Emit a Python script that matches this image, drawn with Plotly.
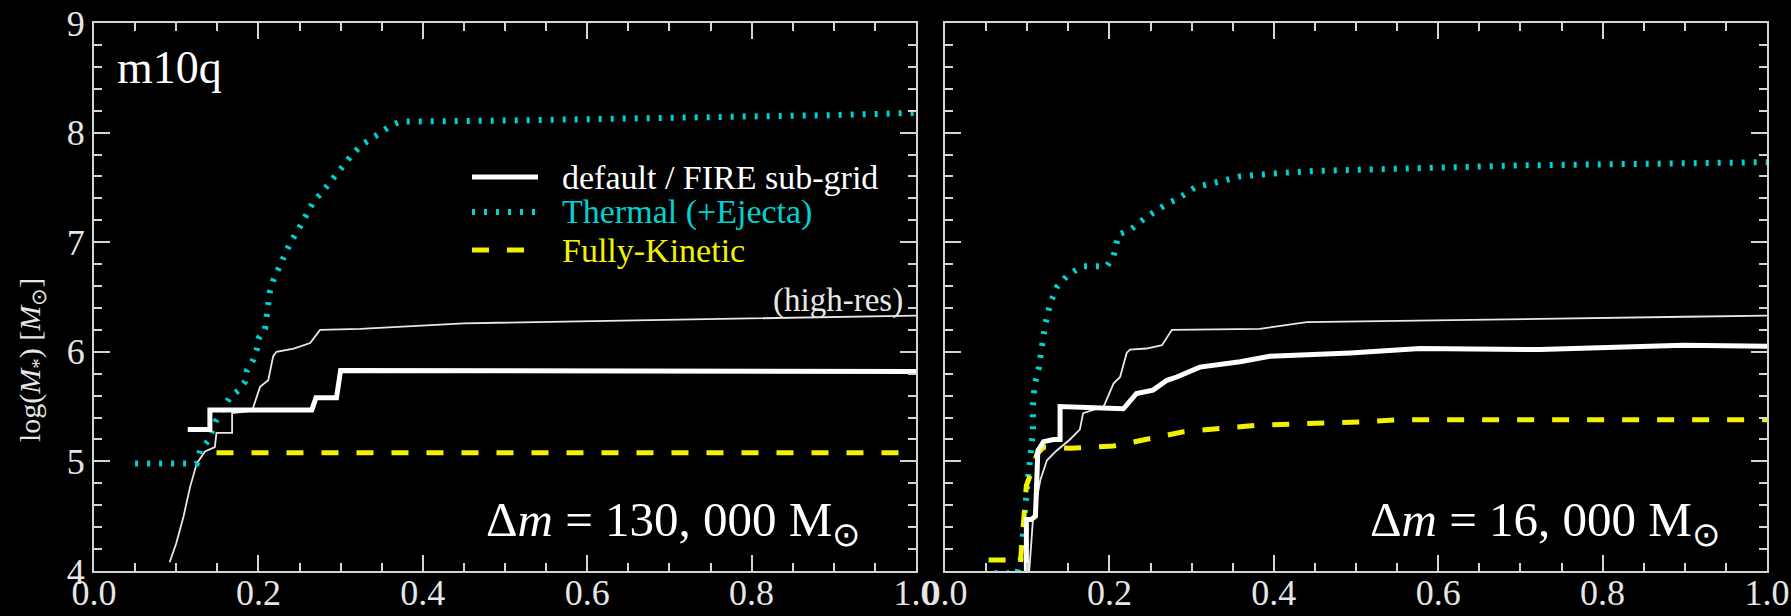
import plotly.graph_objects as go

# ---------------- data ----------------
# Left panel (Delta m = 130,000 Msun)
L_default_x = [0.114, 0.141, 0.141, 0.265, 0.270, 0.295, 0.300, 0.50, 1.0]
L_default_y = [5.29, 5.29, 5.47, 5.47, 5.58, 5.58, 5.83, 5.83, 5.82]

L_hires_x = [0.092, 0.100, 0.109, 0.117, 0.125, 0.135, 0.147, 0.149, 0.168, 0.168, 0.192, 0.194,
             0.202, 0.212, 0.218, 0.222, 0.243, 0.263, 0.275, 0.324, 0.45, 0.60, 0.80, 1.0]
L_hires_y = [4.08, 4.25, 4.50, 4.77, 4.98, 5.09, 5.13, 5.26, 5.26, 5.44, 5.46, 5.50,
             5.68, 5.74, 5.96, 6.00, 6.03, 6.08, 6.20, 6.21, 6.26, 6.28, 6.31, 6.33]

L_thermal_x = [0.050, 0.125, 0.129, 0.139, 0.149, 0.165, 0.176, 0.184, 0.186, 0.194, 0.198, 0.200,
               0.208, 0.210, 0.212, 0.214, 0.218, 0.224, 0.232, 0.239, 0.249, 0.258, 0.267, 0.279,
               0.290, 0.302, 0.314, 0.326, 0.340, 0.351, 0.360, 0.372, 0.50, 0.70, 0.90, 1.0]
L_thermal_y = [4.98, 4.98, 5.10, 5.19, 5.38, 5.58, 5.65, 5.73, 5.83, 5.93, 6.02, 6.12,
               6.21, 6.32, 6.45, 6.55, 6.65, 6.75, 6.85, 7.00, 7.12, 7.24, 7.37, 7.47,
               7.58, 7.70, 7.80, 7.89, 7.95, 8.01, 8.06, 8.10, 8.11, 8.13, 8.16, 8.18]

L_kinetic_x = [0.149, 0.50, 1.0]
L_kinetic_y = [5.08, 5.08, 5.08]

# Right panel (Delta m = 16,000 Msun)
R_default_x = [0.099, 0.099, 0.105, 0.110, 0.113, 0.120, 0.132, 0.140, 0.140, 0.217, 0.233, 0.253,
               0.270, 0.282, 0.310, 0.335, 0.359, 0.395, 0.493, 0.578, 0.724, 0.898, 1.0]
R_default_y = [3.90, 4.47, 4.47, 4.50, 5.10, 5.18, 5.20, 5.20, 5.50, 5.48, 5.62, 5.65,
               5.74, 5.77, 5.86, 5.88, 5.91, 5.96, 5.99, 6.03, 6.02, 6.06, 6.05]

R_hires_x = [0.101, 0.103, 0.107, 0.116, 0.124, 0.136, 0.152, 0.164, 0.168, 0.193, 0.205, 0.213,
             0.221, 0.225, 0.245, 0.264, 0.276, 0.383, 0.44, 0.562, 0.724, 0.90, 1.0]
R_hires_y = [3.90, 4.05, 4.47, 4.83, 5.01, 5.10, 5.20, 5.29, 5.44, 5.50, 5.71, 5.77,
             5.99, 6.02, 6.03, 6.06, 6.20, 6.21, 6.27, 6.28, 6.30, 6.32, 6.33]

R_thermal_x = [0.060, 0.088, 0.092, 0.095, 0.099, 0.101, 0.104, 0.107, 0.107, 0.109, 0.114, 0.118,
               0.122, 0.128, 0.136, 0.148, 0.166, 0.197, 0.205, 0.211, 0.225, 0.245, 0.270, 0.282,
               0.304, 0.332, 0.359, 0.404, 0.448, 0.501, 0.553, 0.696, 0.898, 1.0]
R_thermal_y = [3.98, 3.98, 4.10, 4.40, 4.65, 4.85, 5.05, 5.29, 5.50, 5.70, 5.85, 6.05,
               6.25, 6.44, 6.59, 6.69, 6.78, 6.78, 6.87, 7.07, 7.11, 7.23, 7.35, 7.39,
               7.50, 7.55, 7.60, 7.63, 7.65, 7.66, 7.67, 7.70, 7.72, 7.73]

R_kinetic_x = [0.053, 0.075, 0.078, 0.090, 0.094, 0.097, 0.099, 0.103, 0.112, 0.120, 0.152, 0.205,
               0.245, 0.290, 0.335, 0.379, 0.505, 0.550, 0.724, 1.0]
R_kinetic_y = [4.10, 4.10, 3.90, 3.90, 4.30, 4.55, 4.78, 4.86, 5.07, 5.13, 5.12, 5.14,
               5.20, 5.27, 5.30, 5.33, 5.36, 5.38, 5.38, 5.38]

series_names = ["default / FIRE sub-grid", "Thermal (+Ejecta)", "Fully-Kinetic"]
panel_labels = ["Δ<i>m</i> = 130, 000 M<sub>⊙</sub>", "Δ<i>m</i> = 16, 000 M<sub>⊙</sub>"]
x_ticks = [0.0, 0.2, 0.4, 0.6, 0.8, 1.0]
y_ticks = [4, 5, 6, 7, 8, 9]

# ---------------- style ----------------
WHITE = "#ffffff"
CYAN = "#00d2d2"
YELLOW = "#f2f200"
AXC = "#d4d4d4"
SERIF = "Liberation Serif"

line_styles = [dict(color=WHITE, width=5),
               dict(color=CYAN, width=6, dash="3px,9px"),
               dict(color=YELLOW, width=5, dash="17px,18px")]

fig = go.Figure()

def add_panel(xa, ya, dx, dy, hx, hy, tx, ty, kx, ky):
    fig.add_trace(go.Scatter(x=hx, y=hy, mode="lines", xaxis=xa, yaxis=ya, name="high-res",
                             line=dict(color="#e8e8e8", width=1.8), hoverinfo="skip"))
    fig.add_trace(go.Scatter(x=tx, y=ty, mode="lines", xaxis=xa, yaxis=ya,
                             name=series_names[1], line=line_styles[1]))
    fig.add_trace(go.Scatter(x=kx, y=ky, mode="lines", xaxis=xa, yaxis=ya,
                             name=series_names[2], line=line_styles[2]))
    fig.add_trace(go.Scatter(x=dx, y=dy, mode="lines", xaxis=xa, yaxis=ya,
                             name=series_names[0], line=line_styles[0]))

add_panel("x", "y", L_default_x, L_default_y, L_hires_x, L_hires_y,
          L_thermal_x, L_thermal_y, L_kinetic_x, L_kinetic_y)
add_panel("x2", "y2", R_default_x, R_default_y, R_hires_x, R_hires_y,
          R_thermal_x, R_thermal_y, R_kinetic_x, R_kinetic_y)

W, H = 1791, 616
yd = [(H - 571) / H, (H - 23) / H]

xcommon = dict(range=[0, 1.0], tickvals=x_ticks, ticktext=[f"{v:.1f}" for v in x_ticks],
               ticks="inside", ticklen=16, tickwidth=2, tickcolor=AXC,
               showline=True, linecolor=AXC, linewidth=2, mirror="allticks",
               showgrid=False, zeroline=False, automargin=False,
               minor=dict(dtick=0.05, tick0=0, ticks="inside", ticklen=8, tickwidth=2, tickcolor=AXC),
               tickfont=dict(family=SERIF, size=36, color="#e6e6e6"), ticklabelstandoff=-11)
ycommon = dict(range=[4, 9], tickvals=y_ticks,
               ticks="inside", ticklen=16, tickwidth=2, tickcolor=AXC,
               showline=True, linecolor=AXC, linewidth=2, mirror="allticks",
               showgrid=False, zeroline=False, automargin=False,
               minor=dict(dtick=0.2, tick0=4, ticks="inside", ticklen=8, tickwidth=2, tickcolor=AXC),
               tickfont=dict(family=SERIF, size=36, color="#e6e6e6"), ticklabelstandoff=0)

fig.update_layout(
    width=W, height=H,
    margin=dict(l=0, r=0, t=0, b=0, autoexpand=False),
    paper_bgcolor="black", plot_bgcolor="black",
    font=dict(family=SERIF, color=WHITE),
    xaxis=dict(domain=[94 / W, 916 / W], anchor="y", **xcommon),
    yaxis=dict(domain=yd, anchor="x", **ycommon),
    xaxis2=dict(domain=[945 / W, 1767 / W], anchor="y2", **xcommon),
    yaxis2=dict(domain=yd, anchor="x2", showticklabels=False, **ycommon),
    showlegend=False,
)

# legend key (drawn in the upper part of the left panel)
legend_rows_y = [177, 212, 250]
legend_colors = [WHITE, CYAN, YELLOW]
for i, name in enumerate(series_names):
    yy = 1 - legend_rows_y[i] / H
    fig.add_shape(type="line", xref="paper", yref="paper", x0=472 / W, x1=538 / W, y0=yy, y1=yy,
                  line=line_styles[i])
    fig.add_annotation(text=name, xref="paper", yref="paper", x=560 / W, y=yy,
                       xanchor="left", yanchor="middle", showarrow=False,
                       font=dict(family=SERIF, size=34, color=legend_colors[i]))

ann_font = dict(family=SERIF, color=WHITE)
fig.add_annotation(text="m10q", xref="paper", yref="paper", x=115 / W, y=1 - 68 / H,
                   xanchor="left", yanchor="middle", showarrow=False, font=dict(size=46, **ann_font))
fig.add_annotation(text="(high-res)", xref="paper", yref="paper", x=905 / W, y=1 - 300 / H,
                   xanchor="right", yanchor="middle", showarrow=False,
                   font=dict(family=SERIF, size=33, color="#e8e8e8"))
fig.add_annotation(text=panel_labels[0], xref="paper", yref="paper", x=673 / W, y=1 - 522 / H,
                   xanchor="center", yanchor="middle", showarrow=False, font=dict(size=49, **ann_font))
fig.add_annotation(text=panel_labels[1], xref="paper", yref="paper", x=1545 / W, y=1 - 522 / H,
                   xanchor="center", yanchor="middle", showarrow=False, font=dict(size=49, **ann_font))
fig.add_annotation(text="log(<i>M</i><sub>*</sub>) [<i>M</i><sub>⊙</sub>]", xref="paper", yref="paper",
                   x=32 / W, y=1 - 360 / H, xanchor="center", yanchor="middle", textangle=-90,
                   showarrow=False, font=dict(family=SERIF, size=30, color="#e6e6e6"))

fig.write_html("out.html", config={"displayModeBar": False},
               post_script="document.body.style.margin='0';document.body.style.background='black';")
